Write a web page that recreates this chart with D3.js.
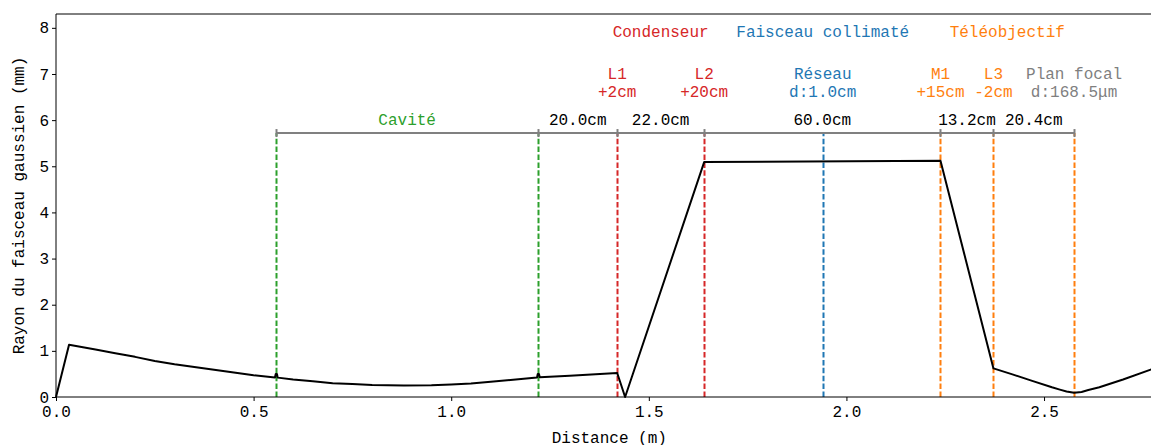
<!DOCTYPE html>
<html><head><meta charset="utf-8">
<script src="https://cdn.jsdelivr.net/npm/d3@7"></script>
<style>body{margin:0;background:#fff}svg{display:block}text{font-family:"Liberation Mono",monospace}</style>
</head><body>
<svg id="c" width="1151" height="445"></svg>
<script>
// Beam radius curve (m, mm)
const beamX = [0, 0.033, 0.1, 0.15, 0.2, 0.25, 0.3, 0.35, 0.4, 0.45, 0.5, 0.554, 0.556, 0.559, 0.561, 0.6, 0.65, 0.7, 0.75, 0.8, 0.88, 0.95, 1.0, 1.05, 1.1, 1.15, 1.217, 1.219, 1.222, 1.224, 1.3, 1.42, 1.44, 1.64, 2.238, 2.372, 2.42, 2.47, 2.52, 2.54, 2.557, 2.576, 2.595, 2.612, 2.64, 2.7, 2.772, 2.8];
const beamY = [0, 1.13, 1.03, 0.95, 0.87, 0.78, 0.71, 0.65, 0.59, 0.53, 0.47, 0.42, 0.5, 0.5, 0.42, 0.38, 0.34, 0.30, 0.28, 0.26, 0.25, 0.255, 0.27, 0.29, 0.33, 0.37, 0.42, 0.5, 0.5, 0.43, 0.46, 0.52, 0.0, 5.09, 5.12, 0.62, 0.49, 0.35, 0.21, 0.16, 0.12, 0.09, 0.11, 0.15, 0.21, 0.38, 0.6, 0.68];
// Optical elements (vertical dashed lines)
const elemPos = [0.557, 1.22, 1.42, 1.64, 1.94, 2.238, 2.372, 2.576];
const elemColor = ["#2ca02c", "#2ca02c", "#d62728", "#d62728", "#1f77b4", "#ff7f0e", "#ff7f0e", "#ff7f0e"];
const elemLabelColor = ["#2ca02c", "#2ca02c", "#d62728", "#d62728", "#1f77b4", "#ff7f0e", "#ff7f0e", "#7f7f7f"];
const elemName = ["", "", "L1", "L2", "Réseau", "M1", "L3", "Plan focal"];
const elemSub = ["", "", "+2cm", "+20cm", "d:1.0cm", "+15cm", "-2cm", "d:168.5μm"];
// Dimension line segments
const dimStart = [0.557, 1.22, 1.42, 1.64, 2.238, 2.372];
const dimEnd = [1.22, 1.42, 1.64, 2.238, 2.372, 2.576];
const dimLabel = ["Cavité", "20.0cm", "22.0cm", "60.0cm", "13.2cm", "20.4cm"];
const dimColor = ["#2ca02c", "#000", "#000", "#000", "#000", "#000"];
const dimLevel = 5.72;
// Group labels
const groupName = ["Condenseur", "Faisceau collimaté", "Téléobjectif"];
const groupCenter = [1.53, 1.94, 2.407];
const groupColor = ["#d62728", "#1f77b4", "#ff7f0e"];
const xTicks = [0, 0.5, 1.0, 1.5, 2.0, 2.5];
const yTicks = [0, 1, 2, 3, 4, 5, 6, 7, 8];

const svg = d3.select("#c");
const L = 56, T = 14, B = 397, R = 1162.6;
const x = d3.scaleLinear().domain([0, 2.8]).range([L, R]);
const y = d3.scaleLinear().domain([0, 8.3]).range([B, T]);
const px = v => Math.round(x(v)) + 0.5;

// vertical element lines
svg.append("g").selectAll("line").data(elemPos).join("line")
  .attr("x1", d => px(d)).attr("x2", d => px(d))
  .attr("y1", y(0)).attr("y2", y(dimLevel))
  .attr("stroke", (d, i) => elemColor[i]).attr("stroke-width", 2)
  .attr("stroke-dasharray", "5.5,2.4");

// beam curve
svg.append("path").datum(beamX.map((d, i) => [d, beamY[i]]))
  .attr("fill", "none").attr("stroke", "#000").attr("stroke-width", 2).attr("stroke-linejoin", "round")
  .attr("d", d3.line().x(d => x(d[0])).y(d => y(d[1])));

// dimension line
const dg = svg.append("g");
dg.append("line").attr("x1", px(dimStart[0])).attr("x2", px(dimEnd[dimEnd.length - 1]))
  .attr("y1", y(dimLevel)).attr("y2", y(dimLevel)).attr("stroke", "#808080").attr("stroke-width", 2);
const tickPos = dimStart.concat([dimEnd[dimEnd.length - 1]]);
dg.selectAll("line.t").data(tickPos).join("line").attr("class", "t")
  .attr("x1", d => px(d)).attr("x2", d => px(d))
  .attr("y1", y(dimLevel) - 4).attr("y2", y(dimLevel) + 4)
  .attr("stroke", "#808080").attr("stroke-width", 2);
dg.selectAll("text").data(dimLabel).join("text")
  .attr("x", (d, i) => x((dimStart[i] + dimEnd[i]) / 2)).attr("y", y(dimLevel) - 8)
  .attr("text-anchor", "middle").attr("font-size", 16).attr("fill", (d, i) => dimColor[i]).text(d => d);

// element labels
const eg = svg.append("g");
elemPos.forEach((p, i) => {
  if (!elemName[i]) return;
  eg.append("text").attr("x", x(p)).attr("y", 79).attr("text-anchor", "middle")
    .attr("font-size", 16).attr("fill", elemLabelColor[i]).text(elemName[i]);
  eg.append("text").attr("x", x(p)).attr("y", 97).attr("text-anchor", "middle")
    .attr("font-size", 16).attr("fill", elemLabelColor[i]).text(elemSub[i]);
});
svg.append("g").selectAll("text").data(groupName).join("text")
  .attr("x", (d, i) => x(groupCenter[i])).attr("y", 37).attr("text-anchor", "middle")
  .attr("font-size", 16).attr("fill", (d, i) => groupColor[i]).text(d => d);

// axes
const xa = svg.append("g").attr("transform", `translate(0,${B})`)
  .call(d3.axisBottom(x).tickValues(xTicks).tickFormat(d3.format(".1f")).tickSizeOuter(0).tickSize(4));
const ya = svg.append("g").attr("transform", `translate(${L},0)`)
  .call(d3.axisLeft(y).tickValues(yTicks).tickFormat(d3.format("d")).tickSizeOuter(0).tickSize(4));
[xa, ya].forEach(a => { a.select(".domain").remove(); a.selectAll("text").attr("font-size", 16).attr("font-family", "Liberation Mono").attr("fill", "#000"); a.selectAll("line").attr("stroke", "#000"); });
xa.selectAll("text").attr("dy", "0.71em").attr("y", 9);
ya.selectAll("text").attr("x", -7);
// spines
svg.append("line").attr("x1", L).attr("x2", L).attr("y1", T).attr("y2", B).attr("stroke", "#000");
svg.append("line").attr("x1", L).attr("x2", R).attr("y1", B).attr("y2", B).attr("stroke", "#000");
svg.append("line").attr("x1", L).attr("x2", R).attr("y1", T).attr("y2", T).attr("stroke", "#000");
svg.append("line").attr("x1", R).attr("x2", R).attr("y1", T).attr("y2", B).attr("stroke", "#000");

svg.append("text").attr("x", (L + R) / 2).attr("y", 443).attr("text-anchor", "middle").attr("font-size", 16).text("Distance (m)");
svg.append("text").attr("transform", `translate(24,${(T + B) / 2}) rotate(-90)`).attr("text-anchor", "middle").attr("font-size", 16).text("Rayon du faisceau gaussien (mm)");
</script>
</body></html>
